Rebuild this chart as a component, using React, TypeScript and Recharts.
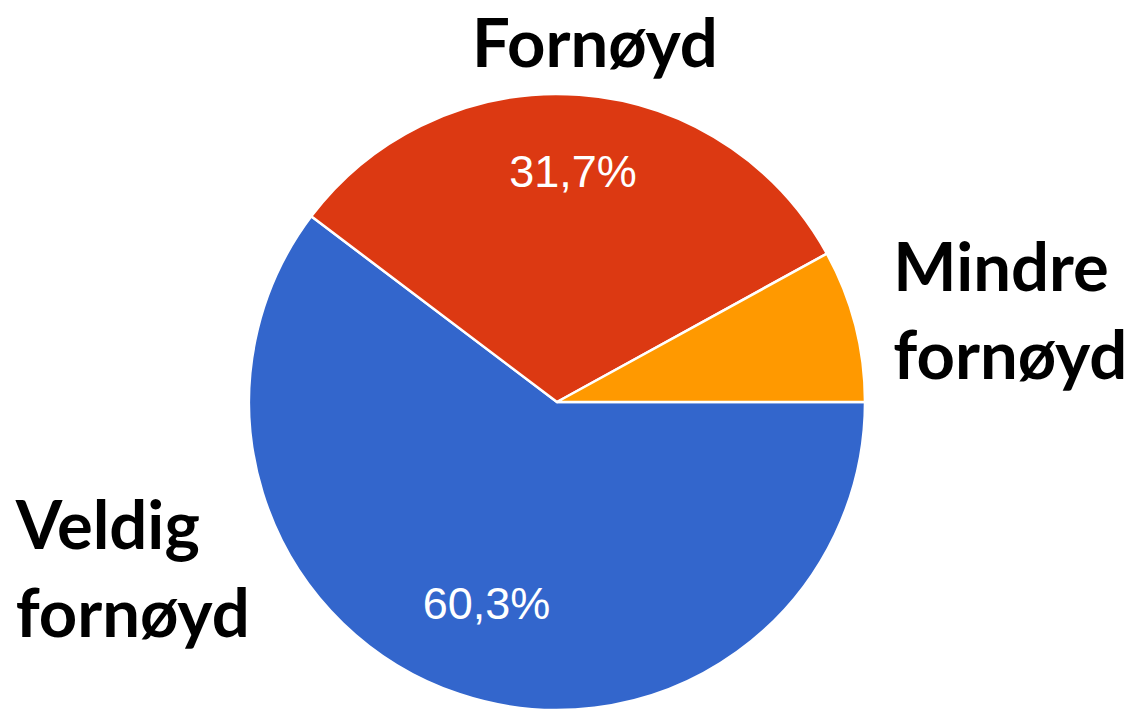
import { PieChart, Pie, Cell } from 'recharts'

// ─── Data ────────────────────────────────────────────────────────────────────

const CATEGORIES = ['Veldig fornøyd', 'Fornøyd', 'Mindre fornøyd']
const SHARES = [60.3, 31.7, 8.0]
const PCT_LABELS = ['60,3%', '31,7%', '']
const NAME_LINES = [['Veldig', 'fornøyd'], ['Fornøyd'], ['Mindre', 'fornøyd']]
const COLORS = ['#3366cc', '#dc3912', '#ff9900']

const data = CATEGORIES.map((name, i) => ({ name, value: SHARES[i] }))

// where each name block sits around the pie: angle (deg) + gap past the rim
const NAME_PLACE = [
  { angle: 197, gap: 258, anchor: 'start' },
  { angle: 84, gap: 55, anchor: 'middle' },
  { angle: 15.5, gap: 41, anchor: 'start' },
] as const

const RAD = Math.PI / 180
const NAME_FONT = 'Lato, "Open Sans", sans-serif'
const NAME_SIZE = 67
const LINE_H = 88

// ─── Labels ───────────────────────────────────────────────────────────────────

function renderLabel(props: any) {
  const { cx, cy, midAngle, outerRadius, index } = props
  const rIn = outerRadius * 0.72
  const px = cx + rIn * Math.cos(-midAngle * RAD)
  const py = cy + rIn * Math.sin(-midAngle * RAD) - 9

  const place = NAME_PLACE[index]
  const rOut = outerRadius + place.gap
  const nx = cx + rOut * Math.cos(-place.angle * RAD)
  const ny = cy + rOut * Math.sin(-place.angle * RAD)
  const lines = NAME_LINES[index]
  const firstY = ny - ((lines.length - 1) * LINE_H) / 2

  return (
    <g>
      {PCT_LABELS[index] && (
        <text
          x={px}
          y={py}
          fill="#ffffff"
          fontSize={45}
          fontFamily='"Liberation Sans", Arial, sans-serif'
          textAnchor="middle"
          dominantBaseline="central"
        >
          {PCT_LABELS[index]}
        </text>
      )}
      <text
        x={nx}
        fill="#000000"
        fontSize={NAME_SIZE}
        fontWeight={700}
        fontFamily={NAME_FONT}
        textAnchor={place.anchor}
        dominantBaseline="central"
      >
        {lines.map((ln, k) => (
          <tspan key={k} x={nx} y={firstY + k * LINE_H}>{ln}</tspan>
        ))}
      </text>
    </g>
  )
}

// ─── Chart ────────────────────────────────────────────────────────────────────

export default function App() {
  return (
    <div style={{ position: 'absolute', left: 0, top: 0, width: 1139, height: 710, background: '#fff' }}>
      <PieChart width={1139} height={710} margin={{ top: 0, right: 0, bottom: 0, left: 0 }}>
        <Pie
          data={data}
          dataKey="value"
          nameKey="name"
          cx={557}
          cy={402}
          outerRadius={308}
          startAngle={0}
          endAngle={-360}
          stroke="#ffffff"
          strokeWidth={2.5}
          label={renderLabel}
          labelLine={false}
          isAnimationActive={false}
        >
          {data.map((d, i) => (
            <Cell key={d.name} fill={COLORS[i]} />
          ))}
        </Pie>
      </PieChart>
    </div>
  )
}
